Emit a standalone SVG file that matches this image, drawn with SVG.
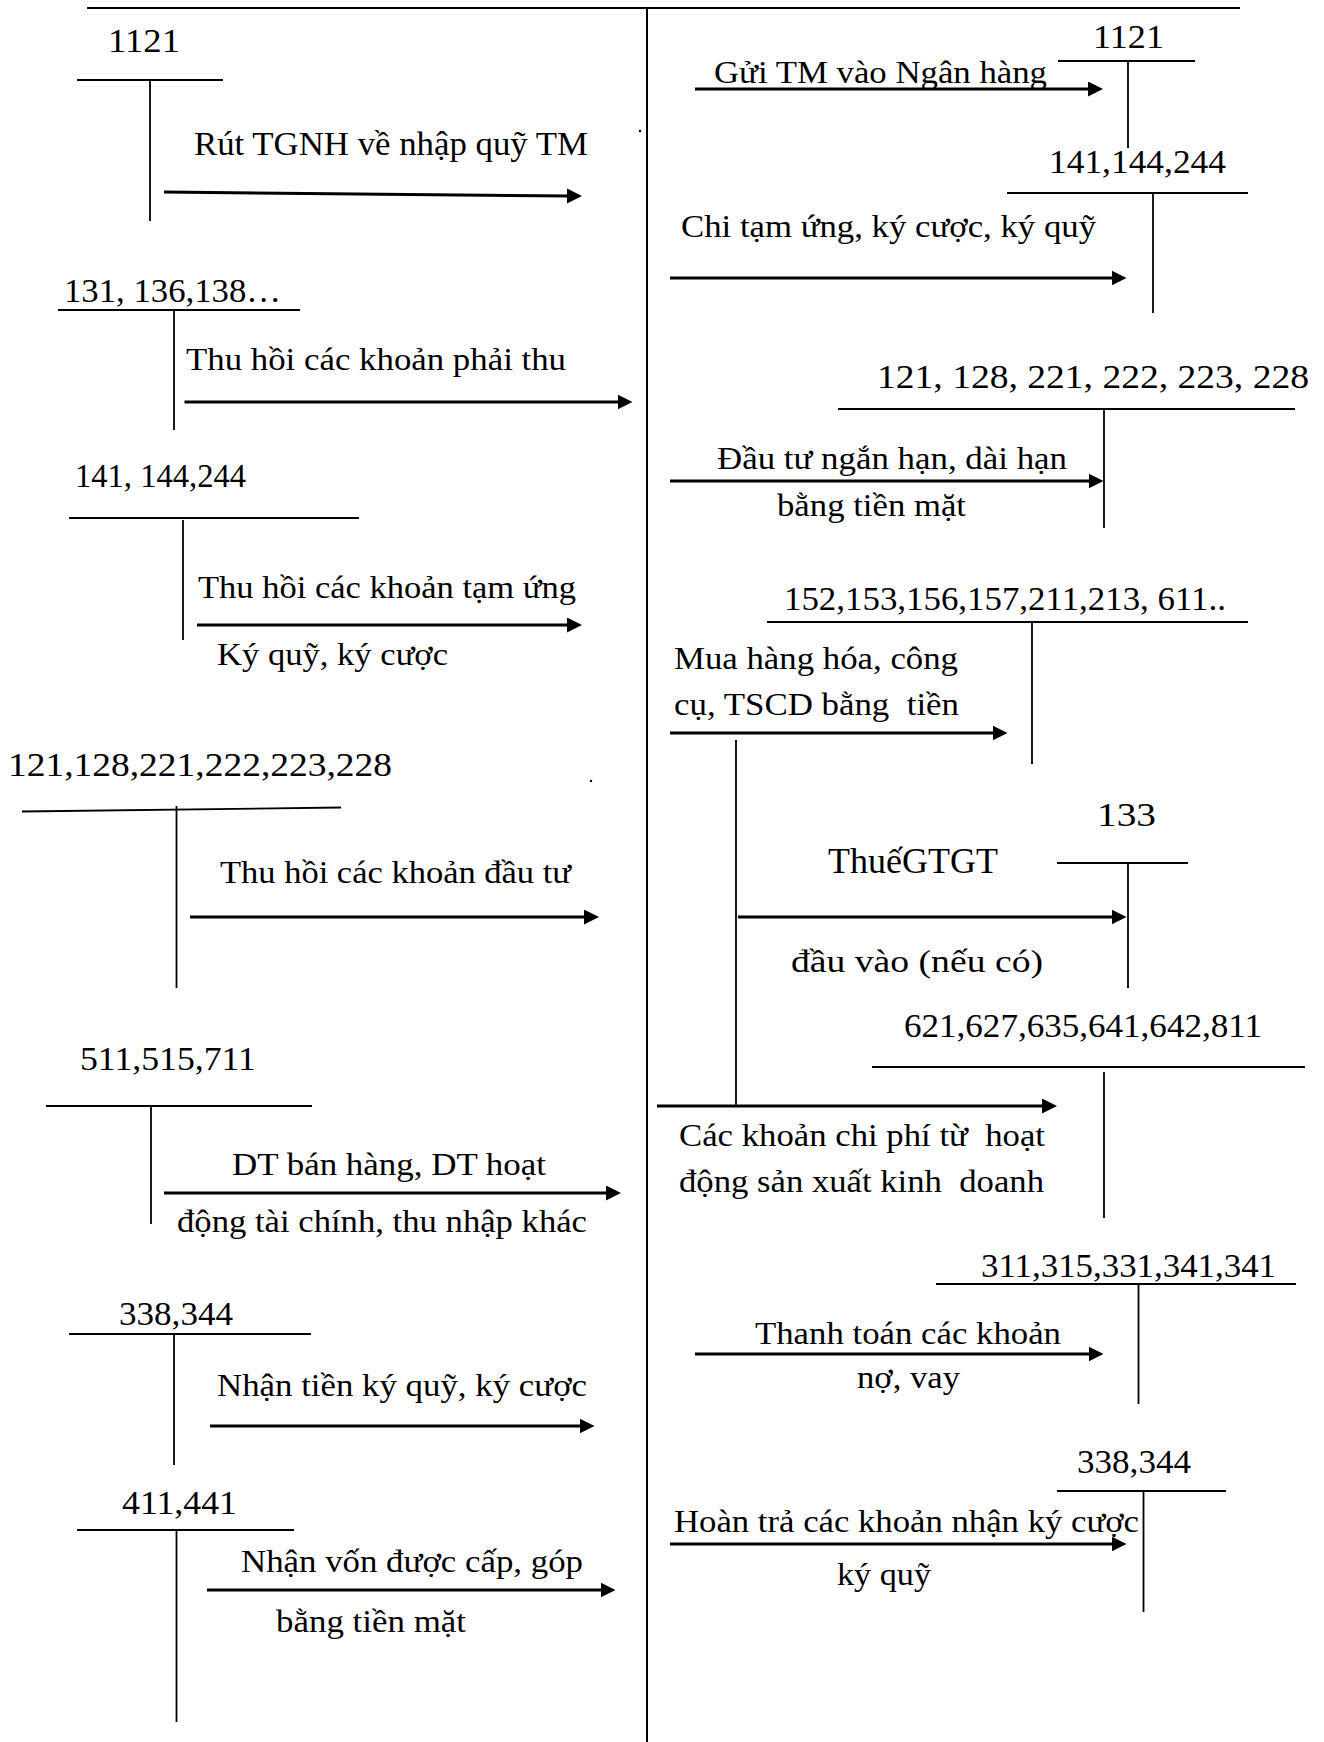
<svg xmlns="http://www.w3.org/2000/svg" width="1324" height="1742" viewBox="0 0 1324 1742">
  <defs>
    <style>
      text { font-family: "Liberation Serif", "Times New Roman", serif; fill: #000; }
      .n { font-size: 33px; }
      .s { font-size: 32px; }
      .frame { stroke: #000; stroke-width: 2; fill: none; }
      .t { stroke: #000; stroke-width: 1.8; fill: none; }
      .arr { stroke: #000; stroke-width: 3; fill: none; marker-end: url(#head); }
    </style>
    <marker id="head" markerUnits="userSpaceOnUse" markerWidth="16" markerHeight="16" refX="3" refY="7.5" orient="auto">
      <path d="M0,0 L15,7.5 L0,15 Z" fill="#000"/>
    </marker>
  </defs>
  <rect width="1324" height="1742" fill="#fff"/>

  <!-- page frame: top rule and centre divider -->
  <g id="frame">
    <line class="frame" x1="87" y1="8" x2="1240" y2="8"/>
    <line class="frame" x1="647" y1="8" x2="647" y2="1742"/>
    <circle cx="640" cy="131" r="1.2" fill="#000"/>
    <circle cx="591" cy="781" r="1.2" fill="#000"/>
  </g>

  <!-- left column T-accounts -->
  <g id="acc-1121-left">
    <text class="n" x="108" y="52" font-size="32" textLength="72" lengthAdjust="spacingAndGlyphs">1121</text>
    <line class="t" x1="77" y1="80" x2="223" y2="80"/>
    <line class="t" x1="150" y1="80" x2="150" y2="221"/>
  </g>
  <g id="acc-131">
    <text class="n" x="64" y="302" font-size="34" textLength="217" lengthAdjust="spacingAndGlyphs">131, 136,138…</text>
    <line class="t" x1="58" y1="310" x2="300" y2="310"/>
    <line class="t" x1="174" y1="310" x2="174" y2="430"/>
  </g>
  <g id="acc-141-left">
    <text class="n" x="75" y="487" font-size="30" textLength="171" lengthAdjust="spacingAndGlyphs">141, 144,244</text>
    <line class="t" x1="69" y1="518" x2="359" y2="518"/>
    <line class="t" x1="183" y1="520" x2="183" y2="640"/>
  </g>
  <g id="acc-121-left">
    <text class="n" x="8" y="776" font-size="34" textLength="384" lengthAdjust="spacingAndGlyphs">121,128,221,222,223,228</text>
    <line class="t" x1="22" y1="811.5" x2="341" y2="807.5"/>
    <line class="t" x1="176.5" y1="806" x2="176.5" y2="988"/>
  </g>
  <g id="acc-511">
    <text class="n" x="80" y="1070" textLength="176" lengthAdjust="spacingAndGlyphs">511,515,711</text>
    <line class="t" x1="46" y1="1106" x2="312" y2="1106"/>
    <line class="t" x1="151" y1="1106" x2="151" y2="1224"/>
  </g>
  <g id="acc-338-left">
    <text class="n" x="119" y="1325" font-size="32" textLength="114" lengthAdjust="spacingAndGlyphs">338,344</text>
    <line class="t" x1="69" y1="1334" x2="311" y2="1334"/>
    <line class="t" x1="174" y1="1334" x2="174" y2="1465"/>
  </g>
  <g id="acc-411">
    <text class="n" x="122" y="1514" font-size="32" textLength="115" lengthAdjust="spacingAndGlyphs">411,441</text>
    <line class="t" x1="77" y1="1530" x2="294" y2="1530"/>
    <line class="t" x1="176.5" y1="1530" x2="176.5" y2="1722"/>
  </g>

  <!-- right column T-accounts -->
  <g id="acc-1121-right">
    <text class="n" x="1093" y="48" font-size="32" textLength="71" lengthAdjust="spacingAndGlyphs">1121</text>
    <line class="t" x1="1058" y1="61" x2="1195" y2="61"/>
    <line class="t" x1="1128" y1="61" x2="1128" y2="148"/>
  </g>
  <g id="acc-141-right">
    <text class="n" x="1049" y="173" font-size="34" textLength="177" lengthAdjust="spacingAndGlyphs">141,144,244</text>
    <line class="t" x1="1007" y1="193" x2="1248" y2="193"/>
    <line class="t" x1="1153" y1="193" x2="1153" y2="313"/>
  </g>
  <g id="acc-121-right">
    <text class="n" x="877" y="388" font-size="35" textLength="432" lengthAdjust="spacingAndGlyphs">121, 128, 221, 222, 223, 228</text>
    <line class="t" x1="838" y1="409" x2="1295" y2="409"/>
    <line class="t" x1="1104" y1="409" x2="1104" y2="528"/>
  </g>
  <g id="acc-152">
    <text class="n" x="784" y="610" font-size="32" textLength="442" lengthAdjust="spacingAndGlyphs">152,153,156,157,211,213, 611..</text>
    <line class="t" x1="767" y1="622" x2="1248" y2="622"/>
    <line class="t" x1="1032" y1="622" x2="1032" y2="764"/>
  </g>
  <g id="acc-133">
    <text class="n" x="1097" y="826" textLength="59" lengthAdjust="spacingAndGlyphs">133</text>
    <line class="t" x1="1057" y1="863" x2="1188" y2="863"/>
    <line class="t" x1="1128" y1="863" x2="1128" y2="988"/>
  </g>
  <g id="acc-621">
    <text class="n" x="904" y="1037" textLength="358" lengthAdjust="spacingAndGlyphs">621,627,635,641,642,811</text>
    <line class="t" x1="872" y1="1067" x2="1305" y2="1067"/>
    <line class="t" x1="1104" y1="1072" x2="1104" y2="1218"/>
  </g>
  <g id="acc-311">
    <text class="n" x="981" y="1277" font-size="32" textLength="295" lengthAdjust="spacingAndGlyphs">311,315,331,341,341</text>
    <line class="t" x1="936" y1="1284" x2="1296" y2="1284"/>
    <line class="t" x1="1138.5" y1="1284" x2="1138.5" y2="1404"/>
  </g>
  <g id="acc-338-right">
    <text class="n" x="1077" y="1473" font-size="32" textLength="114" lengthAdjust="spacingAndGlyphs">338,344</text>
    <line class="t" x1="1057" y1="1491" x2="1226" y2="1491"/>
    <line class="t" x1="1143.5" y1="1491" x2="1143.5" y2="1612"/>
  </g>

  <!-- posting arrows (line ends 12px short of the tip; the marker supplies the head) -->
  <g id="connectors">
    <line class="arr" x1="164" y1="192" x2="570" y2="196"/>
    <line class="arr" x1="184.5" y1="402" x2="620.5" y2="402"/>
    <line class="arr" x1="197" y1="625" x2="570" y2="625"/>
    <line class="arr" x1="190" y1="917" x2="587" y2="917"/>
    <line class="arr" x1="164" y1="1193" x2="609" y2="1193"/>
    <line class="arr" x1="210" y1="1426" x2="582.5" y2="1426"/>
    <line class="arr" x1="207" y1="1590" x2="603.5" y2="1590"/>

    <line class="arr" x1="695" y1="89" x2="1091" y2="89"/>
    <line class="arr" x1="670" y1="278" x2="1114.5" y2="278"/>
    <line class="arr" x1="670" y1="481" x2="1091.5" y2="481"/>
    <line class="arr" x1="670" y1="733" x2="995.5" y2="733"/>
    <line class="t" x1="736" y1="740" x2="736" y2="1106" stroke-width="2"/>
    <line class="arr" x1="738" y1="917" x2="1114.5" y2="917"/>
    <line class="arr" x1="657" y1="1106" x2="1045" y2="1106"/>
    <line class="arr" x1="695" y1="1354" x2="1091.5" y2="1354"/>
    <line class="arr" x1="670" y1="1544" x2="1114.5" y2="1544"/>
  </g>

  <!-- arrow captions -->
  <g id="labels" class="s">
    <text x="194" y="155" font-size="33" textLength="394" lengthAdjust="spacingAndGlyphs">Rút TGNH về nhập quỹ TM</text>
    <text x="186" y="370" textLength="380" lengthAdjust="spacingAndGlyphs">Thu hồi các khoản phải thu</text>
    <text x="198" y="598" textLength="378" lengthAdjust="spacingAndGlyphs">Thu hồi các khoản tạm ứng</text>
    <text x="217" y="665" textLength="231" lengthAdjust="spacingAndGlyphs">Ký quỹ, ký cược</text>
    <text x="220" y="883" textLength="351" lengthAdjust="spacingAndGlyphs">Thu hồi các khoản đầu tư</text>
    <text x="232" y="1175" textLength="314" lengthAdjust="spacingAndGlyphs">DT bán hàng, DT hoạt</text>
    <text x="177" y="1232" textLength="410" lengthAdjust="spacingAndGlyphs">động tài chính, thu nhập khác</text>
    <text x="217" y="1396" textLength="370" lengthAdjust="spacingAndGlyphs">Nhận tiền ký quỹ, ký cược</text>
    <text x="241" y="1572" textLength="342" lengthAdjust="spacingAndGlyphs">Nhận vốn được cấp, góp</text>
    <text x="276" y="1632" textLength="190" lengthAdjust="spacingAndGlyphs">bằng tiền mặt</text>

    <text x="714" y="83" textLength="333" lengthAdjust="spacingAndGlyphs">Gửi TM vào Ngân hàng</text>
    <text x="681" y="237" textLength="415" lengthAdjust="spacingAndGlyphs">Chi tạm ứng, ký cược, ký quỹ</text>
    <text x="717" y="469" textLength="350" lengthAdjust="spacingAndGlyphs">Đầu tư ngắn hạn, dài hạn</text>
    <text x="777" y="516" textLength="189" lengthAdjust="spacingAndGlyphs">bằng tiền mặt</text>
    <text x="674" y="669" textLength="284" lengthAdjust="spacingAndGlyphs">Mua hàng hóa, công</text>
    <text x="674" y="715" textLength="285" lengthAdjust="spacingAndGlyphs">cụ, TSCD bằng &#160;tiền</text>
    <text x="828" y="873" font-size="36" textLength="170" lengthAdjust="spacingAndGlyphs">ThuếGTGT</text>
    <text x="791" y="972" textLength="252" lengthAdjust="spacingAndGlyphs">đầu vào (nếu có)</text>
    <text x="679" y="1146" textLength="366" lengthAdjust="spacingAndGlyphs">Các khoản chi phí từ &#160;hoạt</text>
    <text x="679" y="1192" textLength="365" lengthAdjust="spacingAndGlyphs">động sản xuất kinh &#160;doanh</text>
    <text x="755" y="1344" textLength="306" lengthAdjust="spacingAndGlyphs">Thanh toán các khoản</text>
    <text x="857" y="1388" textLength="103" lengthAdjust="spacingAndGlyphs">nợ, vay</text>
    <text x="674" y="1532" textLength="465" lengthAdjust="spacingAndGlyphs">Hoàn trả các khoản nhận ký cược</text>
    <text x="837" y="1585" textLength="94" lengthAdjust="spacingAndGlyphs">ký quỹ</text>
  </g>
</svg>
